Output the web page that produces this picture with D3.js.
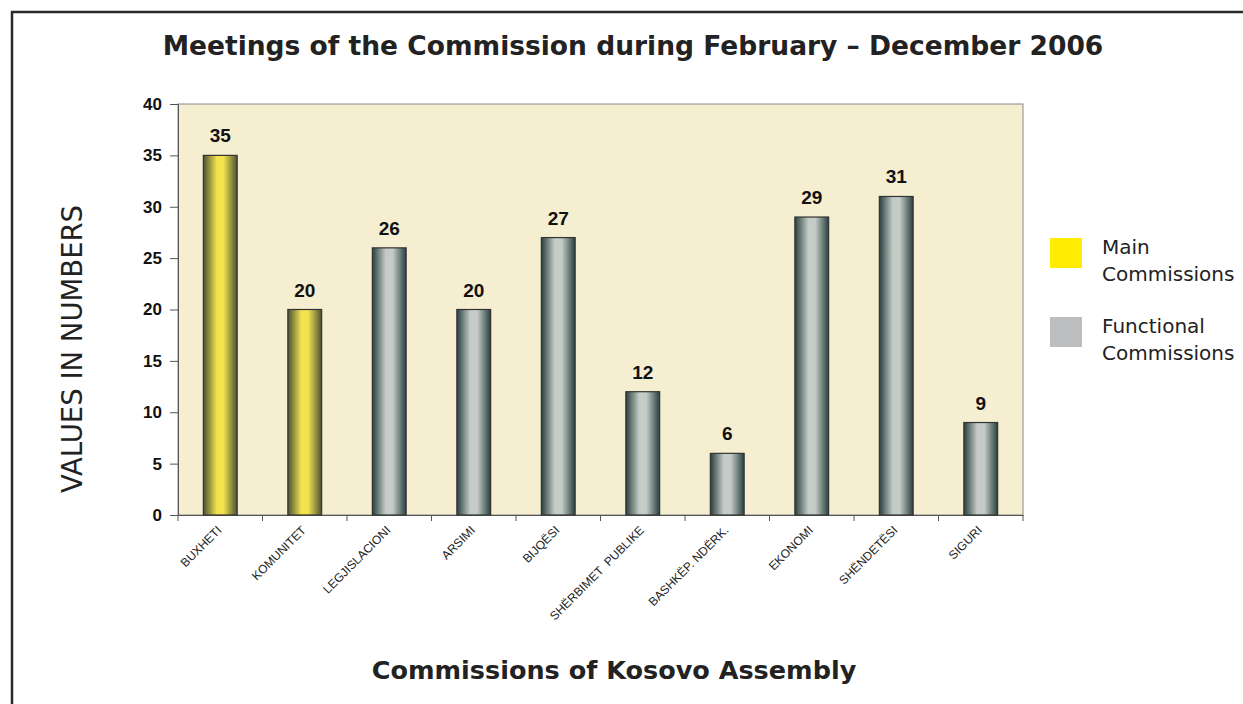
<!DOCTYPE html>
<html>
<head>
<meta charset="utf-8">
<script src="https://cdn.jsdelivr.net/npm/d3@7"></script>
<style>
  body { margin: 0; background: #fff; }
  svg { display: block; }
</style>
</head>
<body>
<svg id="chart" width="1243" height="704"></svg>
<script>
// datos del gráfico
const categories = ["BUXHETI", "KOMUNITET", "LEGJISLACIONI", "ARSIMI", "BIJQËSI",
  "SHËRBIMET  PUBLIKE", "BASHKËP. NDËRK.", "EKONOMI", "SHËNDETËSI", "SIGURI"];
const values = [35, 20, 26, 20, 27, 12, 6, 29, 31, 9];
const groups = ["main", "main", "func", "func", "func", "func", "func", "func", "func", "func"];
const yTicks = [0, 5, 10, 15, 20, 25, 30, 35, 40];
const legendItems = [
  { key: "main", lines: ["Main", "Commissions"] },
  { key: "func", lines: ["Functional", "Commissions"] }
];

const svg = d3.select("#chart");
const plot = { left: 178, right: 1023, top: 104, bottom: 515 };

// marco exterior
svg.append("path")
  .attr("d", "M12,704 L12,12 L1243,12")
  .attr("fill", "none")
  .attr("stroke", "#2b2b2b")
  .attr("stroke-width", 2.5);

// gradientes para las barras
const defs = svg.append("defs");
function gradiente(id, edge, mid) {
  const g = defs.append("linearGradient").attr("id", id)
    .attr("x1", "0%").attr("x2", "100%").attr("y1", "0%").attr("y2", "0%");
  g.append("stop").attr("offset", "0%").attr("stop-color", edge);
  g.append("stop").attr("offset", "40%").attr("stop-color", mid);
  g.append("stop").attr("offset", "60%").attr("stop-color", mid);
  g.append("stop").attr("offset", "100%").attr("stop-color", edge);
}
gradiente("gradMain", "#4b5236", "#f1e24e");
gradiente("gradFunc", "#29403f", "#c5ccc8");

const x = d3.scaleBand()
  .domain(categories)
  .range([plot.left, plot.right])
  .paddingInner(0.6)
  .paddingOuter(0.3);

const y = d3.scaleLinear()
  .domain([0, 40])
  .range([plot.bottom, plot.top]);

// fondo del área de trazado
svg.append("rect")
  .attr("x", plot.left)
  .attr("y", plot.top)
  .attr("width", plot.right - plot.left)
  .attr("height", plot.bottom - plot.top)
  .attr("fill", "#f5eed0")
  .attr("stroke", "#8a8a8a")
  .attr("stroke-width", 1);

// eje Y
const yAxis = svg.append("g")
  .attr("transform", `translate(${plot.left},0)`)
  .call(d3.axisLeft(y).tickValues(yTicks).tickSize(8).tickPadding(8));
yAxis.select(".domain").attr("stroke", "#555");
yAxis.selectAll(".tick line").attr("stroke", "#555");
yAxis.selectAll("text")
  .attr("font-family", "Liberation Sans, Arial, sans-serif")
  .attr("font-weight", "bold")
  .attr("font-size", 17)
  .attr("fill", "#111");

// eje X: línea y marcas entre categorías
const xAxis = svg.append("g")
  .attr("transform", `translate(0,${plot.bottom})`)
  .call(d3.axisBottom(x).tickSize(0).tickFormat(""));
xAxis.select(".domain").attr("stroke", "#555");
const bordes = d3.range(categories.length + 1).map(i => plot.left + i * x.step());
xAxis.selectAll(".sep")
  .data(bordes)
  .join("line")
  .attr("class", "sep")
  .attr("x1", d => d).attr("x2", d => d)
  .attr("y1", 0).attr("y2", 6)
  .attr("stroke", "#555");

// etiquetas de categorías rotadas
svg.append("g").selectAll("text")
  .data(categories)
  .join("text")
  .attr("transform", d => `translate(${x(d) + x.bandwidth() / 2 + 2},${plot.bottom + 16}) rotate(-45)`)
  .attr("text-anchor", "end")
  .attr("font-family", "Liberation Sans, Arial, sans-serif")
  .attr("font-size", 12)
  .attr("fill", "#222")
  .attr("xml:space", "preserve")
  .text(d => d);

// barras
svg.append("g").selectAll("rect")
  .data(values)
  .join("rect")
  .attr("x", (d, i) => x(categories[i]))
  .attr("y", d => y(d))
  .attr("width", x.bandwidth())
  .attr("height", d => y(0) - y(d))
  .attr("fill", (d, i) => groups[i] === "main" ? "url(#gradMain)" : "url(#gradFunc)")
  .attr("stroke", "#333")
  .attr("stroke-width", 1.2);

// valores sobre las barras
svg.append("g").selectAll("text")
  .data(values)
  .join("text")
  .attr("x", (d, i) => x(categories[i]) + x.bandwidth() / 2)
  .attr("y", d => y(d) - 13)
  .attr("text-anchor", "middle")
  .attr("font-family", "Liberation Sans, Arial, sans-serif")
  .attr("font-weight", "bold")
  .attr("font-size", 19)
  .attr("fill", "#111")
  .text(d => d);

// título
svg.append("text")
  .attr("x", 633)
  .attr("y", 55)
  .attr("text-anchor", "middle")
  .attr("font-family", "DejaVu Sans, sans-serif")
  .attr("font-weight", "bold")
  .attr("font-size", 26.5)
  .attr("fill", "#222")
  .text("Meetings of the Commission during February \u2013 December 2006");

// título eje Y
svg.append("text")
  .attr("transform", "translate(82,349) rotate(-90)")
  .attr("text-anchor", "middle")
  .attr("font-family", "DejaVu Sans, sans-serif")
  .attr("font-size", 27.5)
  .attr("fill", "#222")
  .text("VALUES IN NUMBERS");

// título eje X
svg.append("text")
  .attr("x", 614)
  .attr("y", 679)
  .attr("text-anchor", "middle")
  .attr("font-family", "DejaVu Sans, sans-serif")
  .attr("font-weight", "bold")
  .attr("font-size", 25.5)
  .attr("fill", "#222")
  .text("Commissions of Kosovo Assembly");

// leyenda
const colorLeyenda = { main: "#ffec00", func: "#bcbec0" };
const leyenda = svg.append("g").selectAll("g")
  .data(legendItems)
  .join("g")
  .attr("transform", (d, i) => `translate(1050,${238 + i * 79})`);
leyenda.append("rect")
  .attr("width", 32)
  .attr("height", 30)
  .attr("fill", d => colorLeyenda[d.key]);
leyenda.append("text")
  .attr("x", 52)
  .attr("font-family", "DejaVu Sans, sans-serif")
  .attr("font-size", 20)
  .attr("fill", "#222")
  .selectAll("tspan")
  .data(d => d.lines)
  .join("tspan")
  .attr("x", 52)
  .attr("y", (d, i) => 16 + i * 27)
  .text(d => d);
</script>
</body>
</html>
